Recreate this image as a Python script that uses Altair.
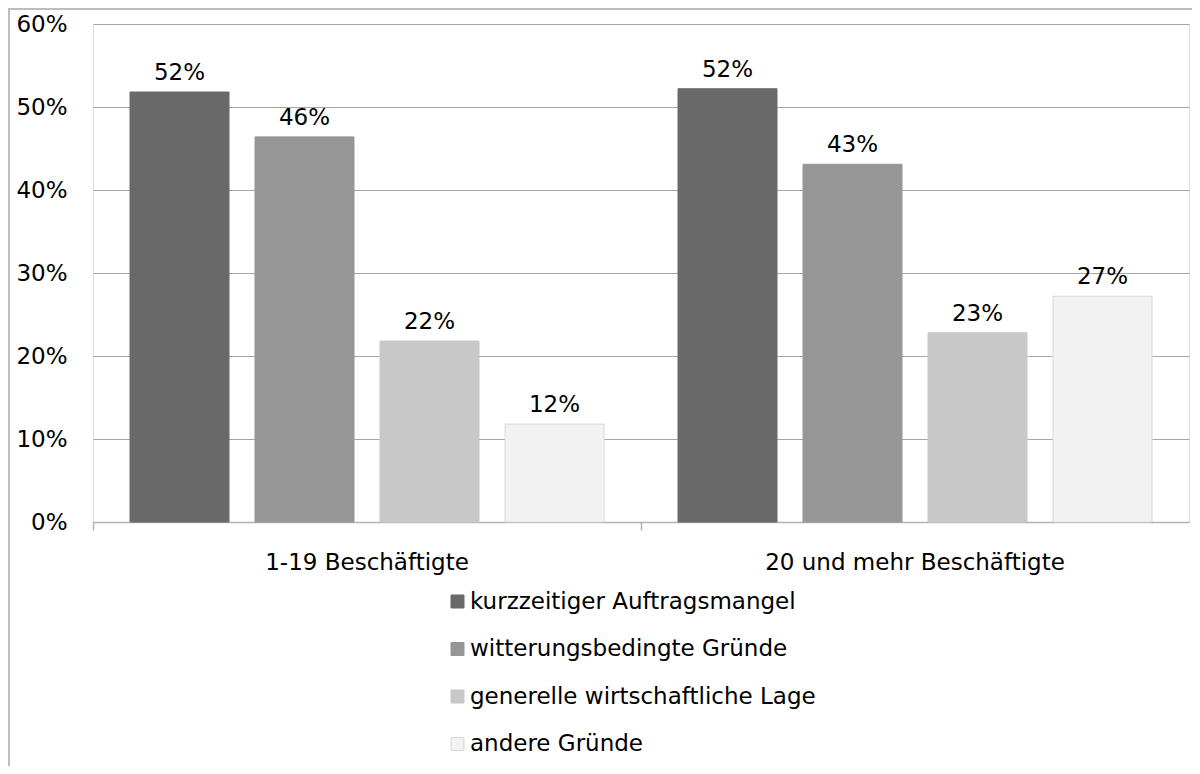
import altair as alt
import pandas as pd

groups = ["1-19 Beschäftigte", "20 und mehr Beschäftigte"]
reasons = ["\u00a0kurzzeitiger Auftragsmangel", "witterungsbedingte Gründe",
           "generelle wirtschaftliche Lage", "andere Gründe"]
values_small = [0.518, 0.464, 0.218, 0.118]
values_large = [0.522, 0.431, 0.228, 0.272]
fills = ["#696969", "#969696", "#c8c8c8", "#f2f2f2"]
strokes = ["#696969", "#969696", "#c8c8c8", "#d9d9d9"]
y_ticks = [0, 0.1, 0.2, 0.3, 0.4, 0.5, 0.6]

rows = []
for g, vals in zip(groups, [values_small, values_large]):
    for r, v in zip(reasons, vals):
        rows.append({"group": g, "reason": r, "value": v})
df = pd.DataFrame(rows)

FONT = "DejaVu Sans"
FS = 23

legend = alt.Legend(title=None, orient="none", legendX=353, legendY=566,
                    symbolType="square", symbolSize=169, labelFontSize=FS,
                    labelFont=FONT, labelColor="#000000", rowPadding=23.5,
                    labelOffset=1, symbolStrokeWidth=1, labelLimit=600)

x_enc = alt.X("group:N", sort=groups,
              scale=alt.Scale(paddingInner=0, paddingOuter=0),
              axis=alt.Axis(title=None, labelAngle=0, labelFontSize=FS, labelFont=FONT,
                            labelColor="#000000", domainColor="#b3b3b3", domainWidth=1.5,
                            tickColor="#b3b3b3", tickSize=8, tickWidth=1.5, labelLimit=1000,
                            bandPosition=0, labelPadding=21, grid=False))
xo_enc = alt.XOffset("reason:N", sort=reasons,
                     scale=alt.Scale(paddingInner=0.208, paddingOuter=0.296))
y_enc = alt.Y("value:Q", scale=alt.Scale(domain=[0, 0.6], nice=False),
              axis=alt.Axis(title=None, format=".0%", values=y_ticks, labelFontSize=FS,
                            labelFont=FONT, labelColor="#000000", domain=False, ticks=False,
                            labelPadding=26, gridColor="#a6a6a6", gridWidth=1))

bars = alt.Chart(df).mark_bar(strokeWidth=1).encode(
    x=x_enc, xOffset=xo_enc, y=y_enc,
    fill=alt.Fill("reason:N", sort=reasons,
                  scale=alt.Scale(domain=reasons, range=fills), legend=legend),
    stroke=alt.Stroke("reason:N", sort=reasons,
                      scale=alt.Scale(domain=reasons, range=strokes), legend=legend),
)

labels = alt.Chart(df).mark_text(font=FONT, fontSize=FS, color="#000000",
                                 baseline="alphabetic", dy=-12).encode(
    x=x_enc, xOffset=xo_enc, y=y_enc,
    text=alt.Text("value:Q", format=".0%"),
)

frame = alt.Chart(pd.DataFrame({"a": [0]})).mark_rect(
    fillOpacity=0, stroke="#bdbdbd", strokeWidth=2).encode(
    x=alt.value(-84), x2=alt.value(1200), y=alt.value(-15), y2=alt.value(900))

chart = alt.layer(frame, bars, labels).properties(
    width=1096, height=498,
    autosize=alt.AutoSizeParams(type="none"),
    padding={"left": 85, "top": 16, "right": 3, "bottom": 244},
).configure_view(stroke=None).configure(font=FONT)

chart.save("out.html", embed_options={"renderer": "svg", "actions": False})
